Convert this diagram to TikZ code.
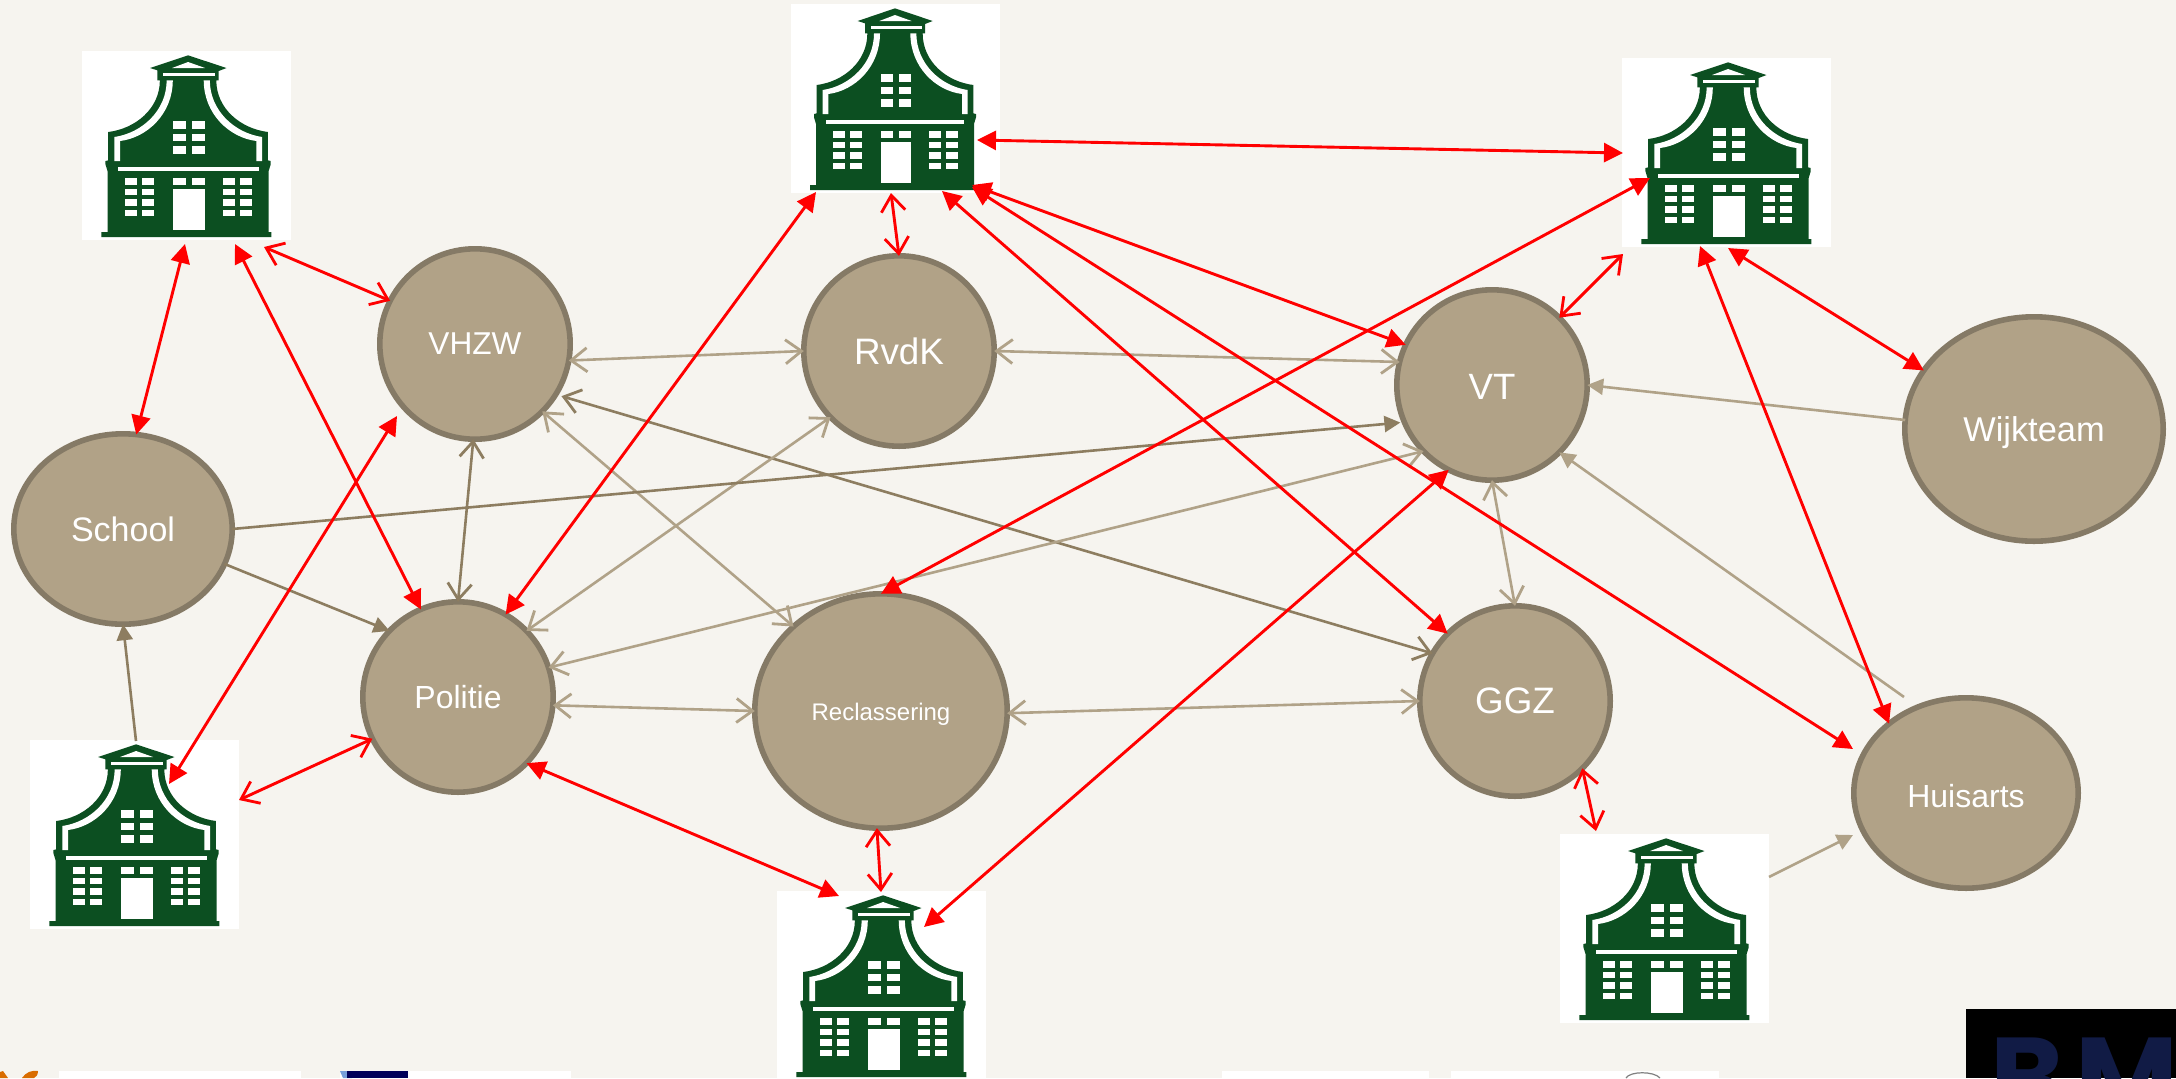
\documentclass[tikz,border=0pt]{standalone}
\usepackage{fontspec}
\setmainfont{Liberation Sans}
\newfontfamily\bmfont{Poppins}
\usetikzlibrary{arrows.meta,shapes.geometric}
\definecolor{bgc}{HTML}{F6F4EF}
\definecolor{nodefill}{HTML}{B1A287}
\definecolor{nodeline}{HTML}{857A66}
\definecolor{tanline}{HTML}{B0A288}
\definecolor{darkline}{HTML}{8D7D60}
\definecolor{housegreen}{HTML}{0C4F21}
\definecolor{redline}{HTML}{FF0000}
\newcommand{\lowered}[2]{\raisebox{-#1}[\height][\depth]{#2}}
\tikzset{
  x=0.5pt,y=-0.5pt,
  round node/.style={circle,draw=nodeline,fill=nodefill,line width=2.8pt,inner sep=0pt,outer sep=0pt,minimum size=95.2pt,text=white},
  oval node/.style={ellipse,draw=nodeline,fill=nodefill,line width=2.8pt,inner sep=0pt,outer sep=0pt,text=white},
  housebox/.style={rectangle,fill=white,inner sep=0pt,outer sep=0pt,minimum width=104.5pt,minimum height=94.5pt,anchor=north west},
  open both/.style={{Straight Barb[length=8pt,width=12pt,line width=1.4pt]}-{Straight Barb[length=8pt,width=12pt,line width=1.4pt]}},
  solid both/.style={{Triangle[length=9.5pt,width=9.5pt]}-{Triangle[length=9.5pt,width=9.5pt]}},
  solid end/.style={-{Triangle[length=8pt,width=8pt]}},
  red link/.style={draw=redline,line width=1.45pt},
  tan link/.style={draw=tanline,line width=1.3pt},
  dark link/.style={draw=darkline,line width=1.3pt},
  housegfx/.pic={
    \begin{scope}[x=0.16667pt,y=-0.16667pt,shift={(-33,-12)}]
      \fill[housegreen] (108,555)--(108,372)--(102,352)--(102,342)--(110,340)--(110,255)
        .. controls (190,245) and (262,185) .. (262,100) -- (255,100) -- (255,70) -- (233,63) -- (345,25) -- (458,63) -- (435,72) -- (435,100) -- (428,100)
        .. controls (428,185) and (500,245) .. (580,255) -- (580,340) -- (588,342) -- (588,352) -- (582,372) -- (582,555) -- (590,555) -- (590,570) -- (90,570) -- (90,555) -- cycle;
      \fill[white] (138,360) rectangle (553,372);
      \fill[white] (272,78) rectangle (425,88);
      \fill[white] (298,63) -- (345,45) -- (395,63) -- cycle;
      \fill[white] (128,342)--(128,270) .. controls (210,258) and (282,190) .. (282,100) -- (300,100) .. controls (300,200) and (225,272) .. (145,282) -- (145,342) -- cycle;
      \fill[white] (563,342)--(563,270) .. controls (481,258) and (409,190) .. (409,100) -- (391,100) .. controls (391,200) and (466,272) .. (546,282) -- (546,342) -- cycle;
      \foreach \yy/\yb in {222/245,260/283,296/320}{
        \fill[white] (302,\yy) rectangle (340,\yb);
        \fill[white] (356,\yy) rectangle (394,\yb);}
      \foreach \yy/\yb in {392/413,425/444,456/477,488/508}{
        \fill[white] (159,\yy) rectangle (194,\yb);
        \fill[white] (209,\yy) rectangle (245,\yb);
        \fill[white] (447,\yy) rectangle (482,\yb);
        \fill[white] (497,\yy) rectangle (533,\yb);}
      \fill[white] (302,393) rectangle (340,413);
      \fill[white] (356,393) rectangle (394,413);
      \fill[white] (302,427) rectangle (394,550);
    \end{scope}
  }
}
\begin{document}
\begin{tikzpicture}
\useasboundingbox (0,0) rectangle (2176,1078);
\fill[bgc] (0,0) rectangle (2176,1078);
% bottom strip of logos
\fill[orange!85!black] (0,1078) -- (8,1078) -- (3,1071) -- (0,1072) -- cycle;
\fill[orange!85!black] (22,1078) .. controls (26,1072) and (32,1070) .. (38,1071) .. controls (38,1075) and (36,1077) .. (34,1078) -- cycle;
\fill[white] (59,1071) rectangle (301,1078);
\fill[white] (340,1071) rectangle (571,1078);
\fill[cyan!50!blue!55] (340,1071) -- (347,1071) -- (352,1078) -- (343,1078) -- cycle;
\fill[blue!35!black] (347,1071) rectangle (408,1078);
\fill[white] (1222,1071) rectangle (1429,1078);
\fill[white] (1451,1071) rectangle (1719,1078);
\draw[gray,line width=0.6pt] (1626,1078) .. controls (1630,1071) and (1654,1071) .. (1660,1078);
\begin{scope}
  \clip (1966,1009) rectangle (2176,1078);
  \fill[black] (1966,1009) rectangle (2176,1078);
  \node[anchor=base west,inner sep=0pt,text={rgb,255:red,17;green,27;blue,69}] (bm) at (1990,1116) {\bmfont\bfseries\fontsize{56}{60}\selectfont B\kern5.5pt M};
\end{scope}
% houses
\node[housebox] (h1) at (82,51) {};
\node[housebox] (h2) at (791,4) {};
\node[housebox] (h3) at (1622,58) {};
\node[housebox] (h4) at (30,740) {};
\node[housebox] (h5) at (777,891) {};
\node[housebox] (h6) at (1560,834) {};
\pic[xscale=1.02] at (h1.north west) {housegfx};
\pic at (h2.north west) {housegfx};
\pic[xscale=1.02] at (h3.north west) {housegfx};
\pic[xscale=1.02] at (h4.north west) {housegfx};
\pic[xscale=1.02] at (h5.north west) {housegfx};
\pic[xscale=1.02] at (h6.north west) {housegfx};
% nodes
\node[round node,font=\fontsize{15.8}{18}\selectfont] (vhzw) at (475,344) {VHZW};
\node[round node,font=\fontsize{18.4}{20}\selectfont] (rvdk) at (899,351) {RvdK};
\node[round node,font=\fontsize{18.3}{20}\selectfont] (vt) at (1492,385) {\lowered{0.7pt}{VT}};
\node[round node,font=\fontsize{16}{18}\selectfont] (pol) at (458,697) {Politie};
\node[round node,font=\fontsize{18.4}{20}\selectfont] (ggz) at (1515,701) {GGZ};
\node[oval node,minimum width=129.2pt,minimum height=112.2pt,font=\fontsize{17.2}{20}\selectfont] (wijk) at (2034,429) {\lowered{2pt}{Wijkteam}};
\node[oval node,minimum width=109.2pt,minimum height=95.2pt,font=\fontsize{17}{20}\selectfont] (school) at (123,529) {School};
\node[oval node,minimum width=126.2pt,minimum height=117.2pt,font=\fontsize{12}{14}\selectfont] (recl) at (881,711) {\lowered{1.4pt}{Reclassering}};
\node[oval node,minimum width=112.2pt,minimum height=95.2pt,font=\fontsize{16}{18}\selectfont] (huis) at (1966,793) {\lowered{1.4pt}{Huisarts}};
% free ends
\coordinate (h1a) at (185,244);
\coordinate (h1b) at (235,244);
\coordinate (h1c) at (264,247);
\coordinate (h2a) at (816,192);
\coordinate (h2b) at (891,193);
\coordinate (h2c) at (977,140);
\coordinate (h2d) at (972,185);
\coordinate (h2e) at (942,191);
\coordinate (h2f) at (972,187);
\coordinate (h3a) at (1623,153);
\coordinate (h3b) at (1650,178);
\coordinate (h3c) at (1623,254);
\coordinate (h3d) at (1728,248);
\coordinate (h3e) at (1700,246);
\coordinate (h4a) at (136,741);
\coordinate (h4b) at (169,784);
\coordinate (h4c) at (239,800);
\coordinate (h5a) at (839,896);
\coordinate (h5b) at (881,892);
\coordinate (h5c) at (924,927);
\coordinate (h6a) at (1596,831);
\coordinate (h6b) at (1769,877);
\coordinate (vhzwgap) at (397,416);
\coordinate (huisgap) at (1853,749);
\coordinate (huisstart) at (1904,697);
\coordinate (huisgap2) at (1853,835);
% tan and brown links
\draw[tan link,open both] (vhzw.-10) -- (rvdk.180);
\draw[tan link,open both] (rvdk.0) -- (vt.166);
\draw[dark link,open both,shorten <=3pt] (vhzw.-32) -- (ggz.150);
\draw[tan link,open both] (vhzw.-45) -- (recl.136);
\draw[dark link,open both] (vhzw.-91) -- (pol.90);
\draw[tan link,open both] (rvdk.224) -- (pol.44);
\draw[tan link,open both] (vt.224) -- (pol.18);
\draw[dark link,solid end,shorten >=2pt] (school.0) -- (vt.203);
\draw[dark link,solid end] (school.-19) -- (pol.136);
\draw[dark link,solid end] (h4a) -- (school.270);
\draw[tan link,open both] (pol.-5) -- (recl.180);
\draw[tan link,open both] (recl.-1) -- (ggz.180);
\draw[tan link,open both] (vt.270) -- (ggz.90);
\draw[tan link,solid end] (wijk.176) -- (vt.0);
\draw[tan link,solid end] (huisstart) -- (vt.-45);
\draw[tan link,solid end] (h6b) -- (huisgap2);
% red links
\draw[red link,solid both] (h1a) -- (school.82);
\draw[red link,solid both] (h1b) -- (pol.113);
\draw[red link,open both] (h1c) -- (vhzw.153);
\draw[red link,solid both] (h4b) -- (vhzwgap);
\draw[red link,open both] (h4c) -- (pol.206.6);
\draw[red link,solid both] (h2a) -- (pol.60);
\draw[red link,open both] (h2b) -- (rvdk.90);
\draw[red link,solid both] (h2c) -- (h3a);
\draw[red link,solid both] (h2d) -- (vt.155);
\draw[red link,solid both] (h2e) -- (ggz.135);
\draw[red link,solid both] (h2f) -- (huisgap);
\draw[red link,solid both] (h3b) -- (recl.90);
\draw[red link,open both] (vt.45) -- (h3c);
\draw[red link,solid both] (h3d) -- (wijk.152);
\draw[red link,solid both] (h3e) -- (huis.138);
\draw[red link,solid both] (pol.-44.6) -- (h5a);
\draw[red link,open both] (recl.268) -- (h5b);
\draw[red link,solid both] (vt.243.5) -- (h5c);
\draw[red link,open both] (ggz.-45) -- (h6a);
\end{tikzpicture}
\end{document}
